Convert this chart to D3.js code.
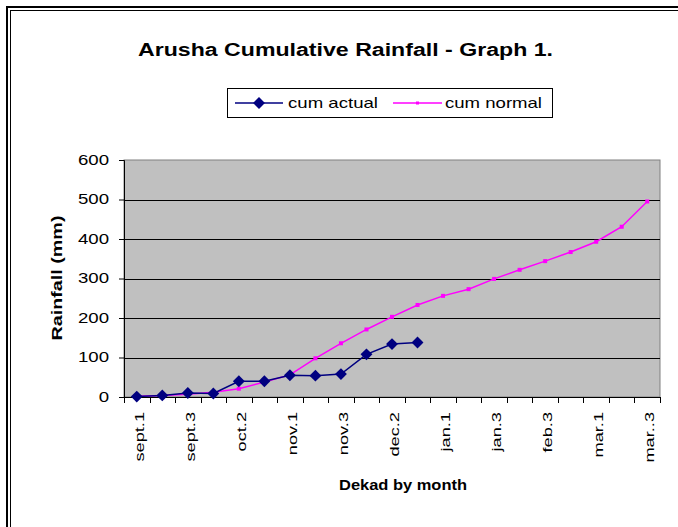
<!DOCTYPE html>
<html>
<head>
<meta charset="utf-8">
<script src="https://cdn.jsdelivr.net/npm/d3@7/dist/d3.min.js"></script>
<style>
  body { margin: 0; background: #fff; }
  text { font-family: "Liberation Sans", Arial, sans-serif; }
</style>
</head>
<body>
<script>
    // dekad categories (every other one is labelled on the axis)
    const dekads = ["sept.1", "sept.2", "sept.3", "oct.1", "oct.2", "oct.3",
        "nov.1", "nov.2", "nov.3", "dec.1", "dec.2", "dec.3",
        "jan.1", "jan.2", "jan.3", "feb.1", "feb.3", "feb.4",
        "mar.1", "mar.2", "mar..3"];
    const cumActual = [1, 4, 10, 9, 40, 40, 55, 54, 58, 108, 134, 138];
    const cumNormal = [2, 4, 7, 12, 21, 38, 56, 98, 136, 171, 203, 233,
        256, 273, 299, 322, 344, 367, 393, 431, 495];
    const yTicks = [0, 100, 200, 300, 400, 500, 600];

    const width = 678, height = 527;
    const plot = { left: 124, right: 660, top: 160, bottom: 397 };

    // the old chart font is wider than Liberation Sans, so stretch text along its run
    function stretch(sel, factor) {
        sel.each(function () {
            const len = this.getComputedTextLength();
            d3.select(this)
                .attr("textLength", len * factor)
                .attr("lengthAdjust", "spacingAndGlyphs");
        });
    }
    function fitTo(sel, len) {
        sel.attr("textLength", len).attr("lengthAdjust", "spacingAndGlyphs");
    }

    const svg = d3.select("body").append("svg")
        .attr("width", width)
        .attr("height", height);

    // outer double frame (cut off at right and bottom)
    svg.append("rect")
        .attr("x", 7).attr("y", 7).attr("width", 720).attr("height", 560)
        .attr("fill", "none").attr("stroke", "#000").attr("stroke-width", 2);
    svg.append("rect")
        .attr("x", 10.5).attr("y", 10.5).attr("width", 720).attr("height", 560)
        .attr("fill", "none").attr("stroke", "#000").attr("stroke-width", 1);

    const x = d3.scaleBand()
        .domain(d3.range(dekads.length))
        .range([plot.left, plot.right]);
    const y = d3.scaleLinear()
        .domain([0, 600])
        .range([plot.bottom, plot.top]);

    // plot area
    svg.append("rect")
        .attr("x", plot.left).attr("y", plot.top)
        .attr("width", plot.right - plot.left).attr("height", plot.bottom - plot.top)
        .attr("fill", "#c0c0c0")
        .attr("stroke", "#808080");

    // gridlines
    svg.selectAll(".grid")
        .data(yTicks.filter(d => d > 0 && d < 600))
        .enter()
        .append("line")
        .attr("x1", plot.left).attr("x2", plot.right)
        .attr("y1", d => Math.round(y(d)) + 0.5).attr("y2", d => Math.round(y(d)) + 0.5)
        .attr("stroke", "#000");

    // y axis
    const yAxis = svg.append("g")
        .attr("transform", `translate(${plot.left},0)`)
        .call(d3.axisLeft(y).tickValues(yTicks).tickSize(5).tickPadding(10));
    yAxis.select(".domain").attr("stroke", "#000");
    yAxis.selectAll("text").attr("font-size", "14px").attr("fill", "#000")
        .attr("font-family", "Liberation Sans, Arial, sans-serif")
        .call(stretch, 1.33);

    // x axis: ticks between categories, labels on every other category
    const xg = svg.append("g");
    xg.append("line")
        .attr("x1", plot.left).attr("x2", plot.right)
        .attr("y1", plot.bottom + 0.5).attr("y2", plot.bottom + 0.5)
        .attr("stroke", "#000");
    xg.selectAll(".xtick")
        .data(d3.range(dekads.length + 1))
        .enter()
        .append("line")
        .attr("x1", d => Math.round(plot.left + d * x.step()) + 0.5)
        .attr("x2", d => Math.round(plot.left + d * x.step()) + 0.5)
        .attr("y1", plot.bottom)
        .attr("y2", plot.bottom + 6)
        .attr("stroke", "#000");
    xg.selectAll(".xlabel")
        .data(d3.range(0, dekads.length, 2))
        .enter()
        .append("text")
        .attr("transform", d => `translate(${x(d) + x.bandwidth() / 2 + 7},412) rotate(-90)`)
        .attr("text-anchor", "end")
        .attr("font-size", "13px")
        .text(d => dekads[d])
        .call(stretch, 1.4);

    // series
    const line = d3.line()
        .x((d, i) => x(i) + x.bandwidth() / 2)
        .y(d => y(d));

    svg.append("path")
        .datum(cumNormal)
        .attr("d", line)
        .attr("fill", "none")
        .attr("stroke", "#ff00ff")
        .attr("stroke-width", 1.5);
    svg.selectAll(".npt")
        .data(cumNormal)
        .enter()
        .append("rect")
        .attr("x", (d, i) => x(i) + x.bandwidth() / 2 - 2)
        .attr("y", d => y(d) - 2)
        .attr("width", 4).attr("height", 4)
        .attr("fill", "#ff00ff");

    svg.append("path")
        .datum(cumActual)
        .attr("d", line)
        .attr("fill", "none")
        .attr("stroke", "#000080")
        .attr("stroke-width", 1.5);
    const diamond = d3.symbol().type(d3.symbolDiamond2).size(90);
    svg.selectAll(".apt")
        .data(cumActual)
        .enter()
        .append("path")
        .attr("d", diamond)
        .attr("transform", (d, i) => `translate(${x(i) + x.bandwidth() / 2},${y(d)})`)
        .attr("fill", "#000080");

    // title
    svg.append("text")
        .attr("x", 345.5).attr("y", 56)
        .attr("text-anchor", "middle")
        .attr("font-size", "18px")
        .attr("font-weight", "bold")
        .text("Arusha Cumulative Rainfall - Graph 1.")
        .call(fitTo, 415);

    // legend
    const lg = svg.append("g");
    lg.append("rect")
        .attr("x", 227.5).attr("y", 88.5).attr("width", 325).attr("height", 29)
        .attr("fill", "#fff").attr("stroke", "#000");
    lg.append("line")
        .attr("x1", 235).attr("x2", 283).attr("y1", 103).attr("y2", 103)
        .attr("stroke", "#000080").attr("stroke-width", 1.5);
    lg.append("path")
        .attr("d", diamond)
        .attr("transform", "translate(259,103)")
        .attr("fill", "#000080");
    lg.append("text")
        .attr("x", 288).attr("y", 108)
        .attr("font-size", "15px")
        .text("cum actual")
        .call(fitTo, 90);
    lg.append("line")
        .attr("x1", 393).attr("x2", 442).attr("y1", 103).attr("y2", 103)
        .attr("stroke", "#ff00ff").attr("stroke-width", 1.5);
    lg.append("rect")
        .attr("x", 416).attr("y", 101.5).attr("width", 3).attr("height", 3)
        .attr("fill", "#ff00ff");
    lg.append("text")
        .attr("x", 445).attr("y", 108)
        .attr("font-size", "15px")
        .text("cum normal")
        .call(fitTo, 97);

    // axis titles
    svg.append("text")
        .attr("transform", "translate(62,278) rotate(-90)")
        .attr("text-anchor", "middle")
        .attr("font-size", "14px")
        .attr("font-weight", "bold")
        .text("Rainfall (mm)")
        .call(fitTo, 125);
    svg.append("text")
        .attr("x", 403).attr("y", 490)
        .attr("text-anchor", "middle")
        .attr("font-size", "14px")
        .attr("font-weight", "bold")
        .text("Dekad by month")
        .call(fitTo, 128);
</script>
</body>
</html>
